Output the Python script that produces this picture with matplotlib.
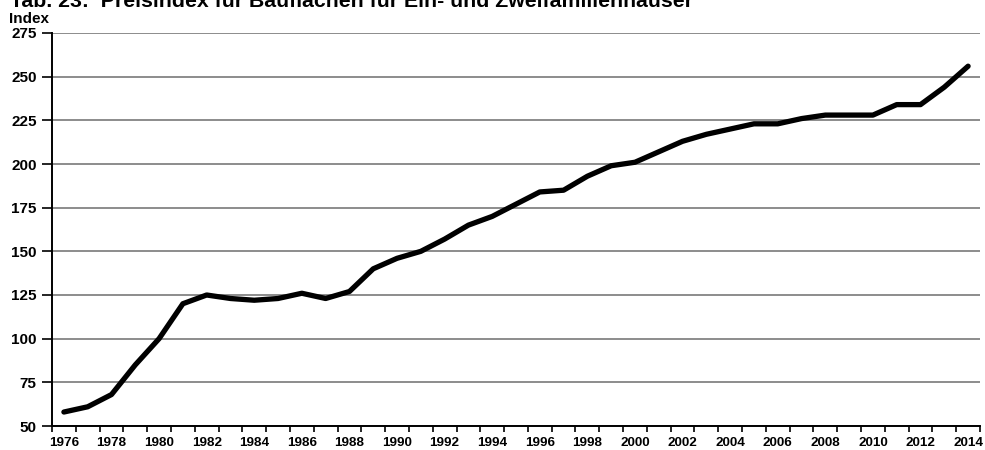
import matplotlib
matplotlib.use("Agg")
import matplotlib.pyplot as plt
import numpy as np

plt.rcParams["font.family"] = ["Liberation Sans", "DejaVu Sans"]
plt.rcParams["font.weight"] = "bold"

years = list(range(1976, 2015))
index = [58, 61, 68, 85, 100, 120, 125, 123, 122, 123, 126, 123, 127, 140,
         146, 150, 157, 165, 170, 177, 184, 185, 193, 199, 201, 207, 213, 217,
         220, 223, 223, 226, 228, 228, 228, 234, 234, 244, 256]
y_ticks = [50, 75, 100, 125, 150, 175, 200, 225, 250, 275]

fig = plt.figure(figsize=(9.85, 4.5), dpi=100)
ax = fig.add_axes([52 / 985, 1 - 426 / 450, 928 / 985, 393 / 450])

pos = np.arange(len(years))
ax.plot(pos, index, color="black", linewidth=3.8, solid_capstyle="round",
        solid_joinstyle="round", zorder=3)

ax.set_ylim(50, 275)
ax.set_xlim(-0.5, len(years) - 0.5)
ax.set_yticks(y_ticks)
ax.set_yticklabels([str(v) for v in y_ticks], fontsize=11, fontweight="bold")
ax.yaxis.grid(True, color="#8c8c8c", linewidth=1.4)
ax.set_axisbelow(True)

# ticks sit between the year categories, labels every second year
ax.set_xticks(np.arange(len(years) + 1) - 0.5)
ax.set_xticklabels([])
ax.set_xticks(pos[::2], minor=True)
ax.set_xticklabels([str(y) for y in years[::2]], minor=True, fontsize=9.7,
                   fontweight="bold")
ax.tick_params(axis="x", which="major", length=4, width=1.2, direction="out")
ax.tick_params(axis="x", which="minor", length=0, pad=8)
ax.tick_params(axis="y", length=7, width=1.2, pad=4)

for side in ("top", "right"):
    ax.spines[side].set_visible(False)
for side in ("left", "bottom"):
    ax.spines[side].set_linewidth(1.4)

fig.text(10 / 985, 1.0 - 7 / 450, "Tab. 23:  Preisindex für Bauflächen für Ein- und Zweifamilienhäuser",
         fontsize=15.3, fontweight="bold", va="baseline", ha="left")
fig.text(9 / 985, 1 - 19 / 450, "Index", fontsize=11, fontweight="bold",
         va="center", ha="left")

fig.savefig("out.png", dpi=100)
